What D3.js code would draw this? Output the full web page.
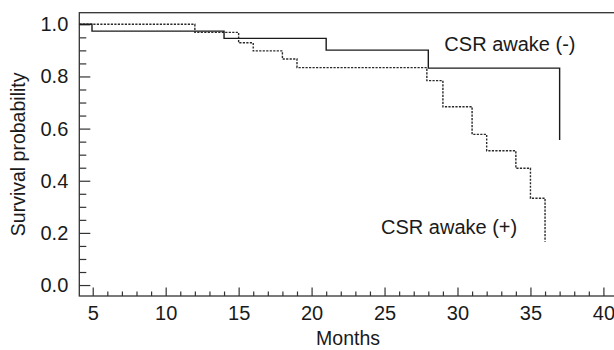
<!DOCTYPE html>
<html>
<head>
<meta charset="utf-8">
<script src="https://cdn.jsdelivr.net/npm/d3@7"></script>
<style>
  body {margin: 0; background: #fff;}
  svg {display: block; font-family: 'Liberation Sans', Arial, sans-serif;}
  .tick text {fill: #1a1a1a;}
</style>
</head>
<body>
<div class='chart'></div>
<script>

// step points: time in months, survival probability
var negTimes = [4.08, 4.95, 14, 21, 28, 37]
var negSurv  = [1.0, 0.974, 0.946, 0.901, 0.832, 0.556]

var posTimes = [4.08, 12, 15, 16, 18, 19, 27.9, 29, 31, 32, 34, 35, 36]
var posSurv  = [1.0, 0.969, 0.929, 0.898, 0.867, 0.834, 0.784, 0.684, 0.578, 0.515, 0.448, 0.333, 0.166]

var xMajor = [5, 10, 15, 20, 25, 30, 35, 40]
var xMinor = d3.range(5, 42, 1)
var yMajor = [0, 0.2, 0.4, 0.6, 0.8, 1.0]
var yMinor = d3.range(0, 1.01, 0.05)

var labels = [
  {text: 'CSR awake (-)', t: 29.1, s: 0.899},
  {text: 'CSR awake (+)', t: 24.76, s: 0.195},
]

var width = 614, height = 350
var ink = '#1a1a1a'

var svg = d3.select('.chart').append('svg')
  .attr('width', width).attr('height', height)

var x = d3.scaleLinear().domain([4.08, 41]).range([79.3, 618])
var y = d3.scaleLinear().domain([-0.042, 1.0445]).range([296, 12.7])

// frame, right side falls off the picture
svg.append('rect')
  .attr('x', x(4.08)).attr('y', y(1.0445))
  .attr('width', x(41) - x(4.08)).attr('height', y(-0.042) - y(1.0445))
  .attr('fill', 'none').attr('stroke', '#333').attr('stroke-width', 1.3)

function drawAxis(axis, transform, fontSize){
  var g = svg.append('g').attr('transform', transform).call(axis)
  g.select('.domain').remove()
  g.selectAll('.tick line').attr('stroke', '#333').attr('stroke-width', 1.2)
  g.selectAll('.tick text').attr('font-size', fontSize).attr('font-family', null)
  return g
}

drawAxis(d3.axisBottom(x).tickValues(xMinor.filter(d => d % 5)).tickSize(-4.5).tickFormat(''),
  `translate(0,${y(-0.042)})`)
drawAxis(d3.axisBottom(x).tickValues(xMajor).tickSize(-8.5).tickPadding(10).tickFormat(d3.format('d')),
  `translate(0,${y(-0.042)})`, 20)

drawAxis(d3.axisLeft(y).tickValues(yMinor.filter(d => Math.round(d*20) % 4)).tickSize(-7).tickFormat(''),
  `translate(${x(4.08)},0)`)
drawAxis(d3.axisLeft(y).tickValues(yMajor).tickSize(-11).tickPadding(11).tickFormat(d3.format('.1f')),
  `translate(${x(4.08)},0)`, 20)

svg.append('text')
  .attr('x', x(22.5)).attr('y', 345)
  .attr('text-anchor', 'middle').attr('font-size', 19.5).attr('fill', ink)
  .text('Months')

svg.append('text')
  .attr('transform', `translate(25,${(y(-0.042) + y(1.0445))/2}) rotate(-90)`)
  .attr('text-anchor', 'middle').attr('font-size', 19.5).attr('fill', ink)
  .text('Survival probability')

var line = d3.line()
  .x(d => x(d[0]))
  .y(d => y(d[1]))
  .curve(d3.curveStepAfter)

svg.append('path')
  .datum(d3.zip(posTimes, posSurv))
  .attr('d', line)
  .attr('fill', 'none').attr('stroke', '#2a2a2a').attr('stroke-width', 1.4)
  .attr('stroke-dasharray', '2.2,1.3')

svg.append('path')
  .datum(d3.zip(negTimes, negSurv))
  .attr('d', line)
  .attr('fill', 'none').attr('stroke', '#1a1a1a').attr('stroke-width', 1.4)

svg.selectAll('text.curve-label').data(labels).join('text')
  .attr('class', 'curve-label')
  .attr('x', d => x(d.t)).attr('y', d => y(d.s))
  .attr('font-size', 20).attr('fill', ink)
  .text(d => d.text)

</script>
</body>
</html>
